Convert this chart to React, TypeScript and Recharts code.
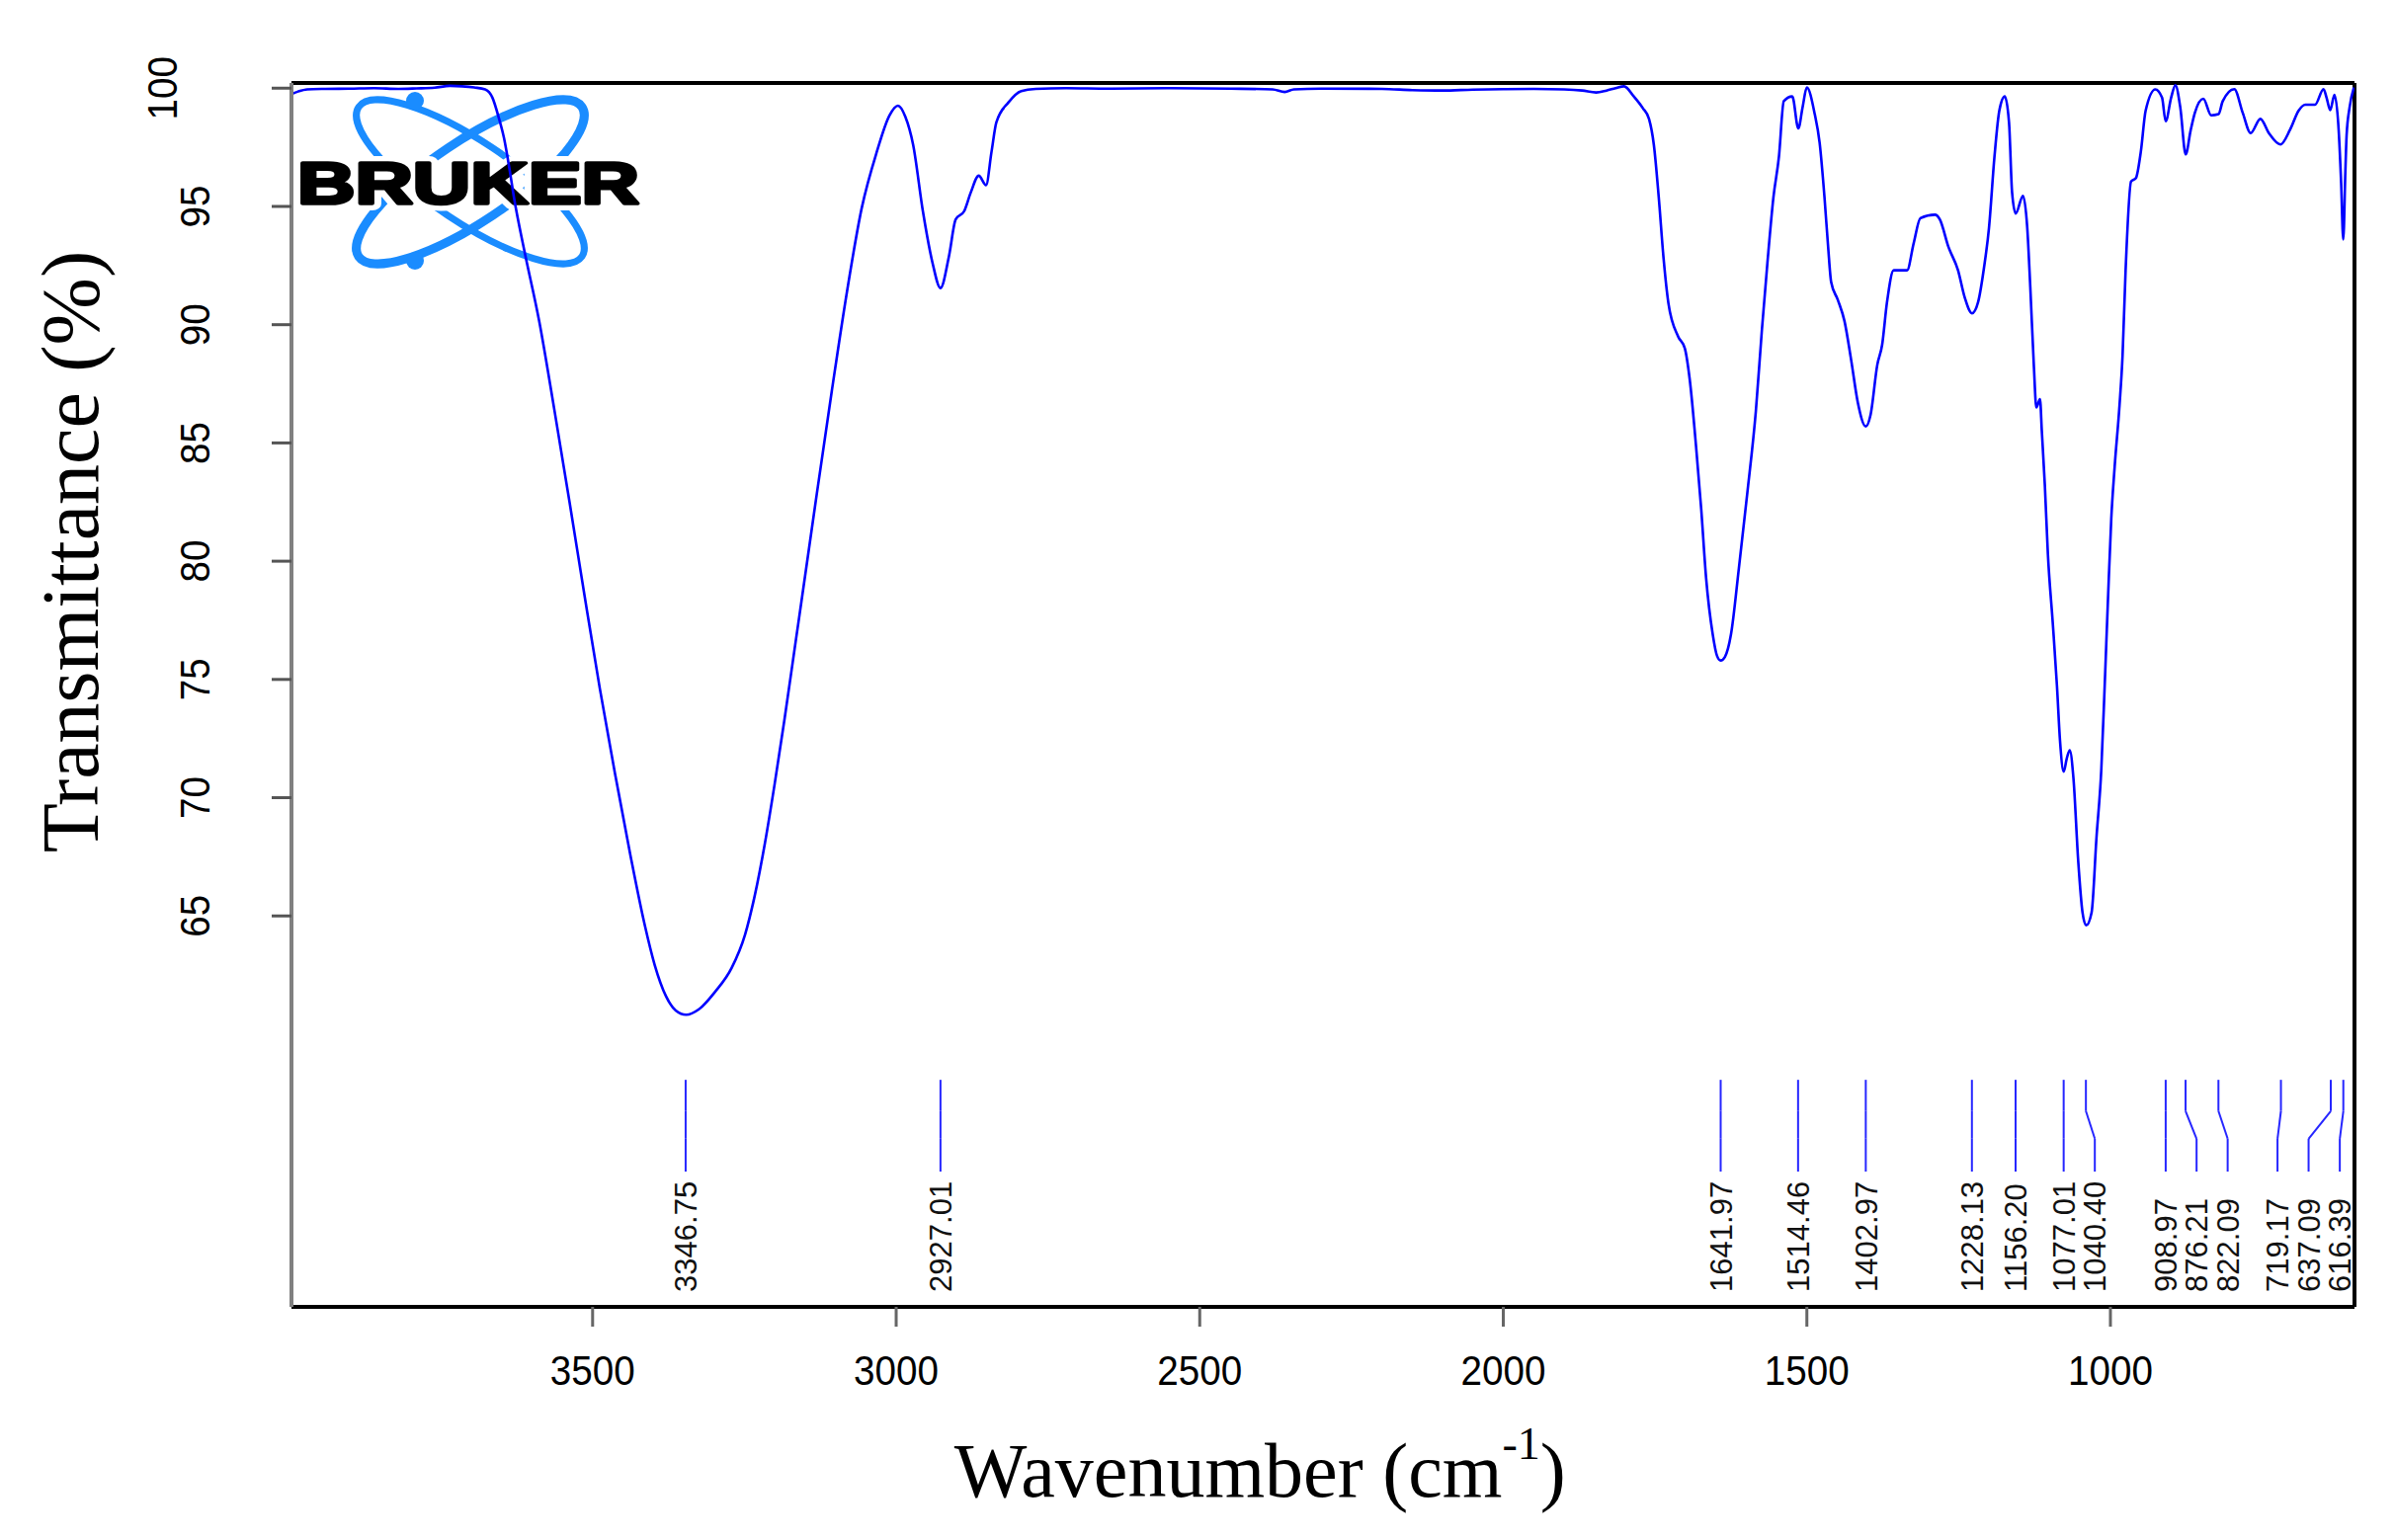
import React from 'react'
import { LineChart, Line, XAxis, YAxis, ReferenceLine, ReferenceDot, Label } from 'recharts'

// IR spectrum (wavenumber in cm-1, transmittance in %)
const wavenumber = [
  3996, 3985, 3970, 3940, 3900, 3860, 3820, 3790, 3760, 3735, 3715, 3695, 3677, 3665, 3654, 3646, 3637, 3629,
  3613, 3588, 3563, 3538, 3513, 3488, 3463, 3438, 3414, 3398, 3379, 3363, 3346, 3325, 3298, 3271,
  3249, 3233, 3216, 3200, 3184, 3165, 3156, 3131, 3106, 3081, 3057, 3032, 3011, 2997, 2985, 2972, 2956, 2940,
  2927, 2913, 2902, 2888, 2877, 2864, 2852, 2843, 2835, 2815, 2794, 2770, 2720, 2650, 2550, 2450, 2380, 2360,
  2345, 2300, 2200, 2150, 2100, 2050, 2000, 1950, 1900, 1870, 1847, 1830, 1815, 1801, 1785, 1770, 1760, 1752,
  1744, 1736, 1728, 1712, 1701, 1693, 1682, 1674, 1666, 1655, 1648, 1642, 1635, 1625, 1612, 1598, 1584, 1574,
  1565, 1555, 1546, 1538, 1524, 1514, 1507, 1500, 1487, 1479, 1471, 1465, 1460, 1449, 1438, 1427, 1416, 1403,
  1395, 1384, 1376, 1368, 1357, 1335, 1324, 1313, 1289, 1281, 1267, 1251, 1240, 1228, 1218, 1208, 1200, 1191,
  1183, 1174, 1167, 1162, 1156, 1144, 1137, 1132, 1126, 1122, 1116, 1113, 1108, 1103, 1095, 1088, 1083, 1077,
  1072, 1067, 1061, 1053, 1046, 1040, 1031, 1023, 1015, 1009.5, 1004, 998.6, 993, 985, 980, 975, 966, 958,
  950, 942, 926, 915, 909, 900, 893, 885, 876, 868, 861, 847, 834, 822, 815, 796, 782, 769,
  753, 739, 720, 704, 690, 679, 663, 649, 644, 638, 631, 624, 620, 616.5, 613, 611, 606, 599,
]
const transmittance = [
  99.75, 99.86, 99.95, 99.97, 99.98, 100.0, 99.97, 99.99, 100.02, 100.1, 100.08, 100.03, 99.95, 99.6, 98.7, 97.9, 96.6, 95.3,
  93.2, 90.15, 86.4, 82.5, 78.5, 74.6, 71.0, 67.6, 64.6, 62.95, 61.6, 61.0, 60.82, 61.05, 61.8, 62.8,
  64.2, 65.85, 68.1, 70.6, 73.3, 76.7, 78.3, 82.8, 87.2, 91.4, 94.9, 97.3, 98.85, 99.26, 98.8, 97.6, 94.8, 92.6,
  91.55, 92.9, 94.45, 94.8, 95.6, 96.3, 95.9, 97.3, 98.55, 99.4, 99.88, 99.97, 100.0, 99.98, 100.0, 99.98, 99.95, 99.84,
  99.95, 99.98, 99.97, 99.92, 99.9, 99.94, 99.96, 99.97, 99.95, 99.9, 99.82, 99.9, 100.0, 100.08, 99.65, 99.15, 98.7, 97.6,
  95.4, 92.8, 90.9, 89.5, 89.0, 87.7, 84.7, 82.2, 79.3, 76.9, 76.0, 75.8, 75.95, 76.9, 79.7, 82.9, 86.35, 89.8,
  92.6, 95.4, 97.1, 99.45, 99.65, 98.3, 99.2, 100.03, 98.9, 97.7, 95.4, 93.3, 91.8, 91.05, 90.15, 88.5, 86.7, 85.7,
  86.2, 88.3, 89.15, 90.95, 92.3, 92.3, 93.45, 94.5, 94.65, 94.45, 93.3, 92.3, 91.15, 90.48, 90.95, 92.45, 94.1, 97.1,
  99.05, 99.65, 98.55, 95.6, 94.7, 95.45, 94.1, 91.6, 88.2, 86.5, 86.85, 85.5, 83.2, 80.3, 77.4, 74.7, 72.4, 71.1,
  71.65, 72.0, 70.85, 67.3, 65.15, 64.6, 65.15, 68.3, 71.2, 74.7, 78.4, 81.8, 84.0, 86.6, 88.7, 92.3, 96.05, 96.2,
  97.3, 99.05, 99.95, 99.6, 98.6, 99.6, 100.12, 99.2, 97.2, 98.2, 98.95, 99.55, 98.85, 98.9, 99.45, 99.96, 98.95, 98.1,
  98.7, 98.1, 97.62, 98.25, 99.05, 99.3, 99.3, 99.96, 99.6, 99.07, 99.72, 98.2, 96.0, 93.6, 96.5, 98.0, 99.2, 100.03,
]

// picked peaks and where their labels sit (labels are nudged apart when peaks crowd)
const peaks = [3346.75, 2927.01, 1641.97, 1514.46, 1402.97, 1228.13, 1156.2, 1077.01, 1040.4, 908.97, 876.21, 822.09, 719.17, 637.09, 616.39]
const labelAt = [3346.75, 2927.01, 1641.97, 1514.46, 1402.97, 1228.13, 1156.2, 1077.01, 1025.7, 908.97, 858.1, 806.9, 724.8, 673.6, 622.2]

const xTicks = [3500, 3000, 2500, 2000, 1500, 1000]
const yTicks = [65, 70, 75, 80, 85, 90, 95, 100]

const X_DOMAIN = [598, 3996]
const Y_DOMAIN = [48.47, 100.22]

// heights (in % units) of the peak-marker strip
const MARK_TOP = 58.07
const BEND_TOP = 56.75
const BEND_BOTTOM = 55.58
const MARK_BOTTOM = 54.19
const LABEL_BASE = 49.1

const spectrum = wavenumber.map((w, i) => ({ w, t: transmittance[i] }))

const tickFont = "'Liberation Sans Narrow', 'Arial Narrow', 'Liberation Sans', Arial, sans-serif"
const sans = "'Liberation Sans', Arial, sans-serif"
const serif = "'Liberation Serif', 'Times New Roman', serif"
const markColor = '#2626ff'

function XTick({ x, y, payload }: any) {
  return (
    <text transform={`translate(${x} ${y}) scale(0.92 1)`} dy="0.71em" textAnchor="middle" fontFamily={tickFont} fontSize={42} fill="#000">
      {payload.value}
    </text>
  )
}

function YTick({ x, y, payload }: any) {
  const bx = payload.value === 100 ? x - 33 : x
  return (
    <text transform={`translate(${bx} ${y}) rotate(-90) scale(0.92 1)`} textAnchor="middle" fontFamily={tickFont} fontSize={42} fill="#000">
      {payload.value}
    </text>
  )
}

function XTitle({ viewBox }: any) {
  const cx = viewBox.x + viewBox.width * 0.4695
  const by = viewBox.y + 192
  return (
    <text x={cx} y={by} textAnchor="middle" fontFamily={serif} fontSize={78} fill="#000">
      Wavenumber (cm
      <tspan fontSize={46} dy={-38}>-1</tspan>
      <tspan dy={38}>)</tspan>
    </text>
  )
}

function YTitle({ viewBox }: any) {
  const bx = viewBox.x - 96
  const cy = viewBox.y + viewBox.height * 0.383
  return (
    <text x={bx} y={cy} transform={`rotate(-90 ${bx} ${cy})`} textAnchor="middle" fontFamily={serif} fontSize={82} fill="#000">
      Transmittance (%)
    </text>
  )
}

function Logo() {
  const blue = '#1a8cff'
  const word = {
    x: 301,
    y: 206,
    textLength: 346,
    lengthAdjust: 'spacingAndGlyphs',
    fontFamily: sans,
    fontWeight: 900,
    fontSize: 60,
  } as const
  return (
    <svg width={2424} height={1559} style={{ position: 'absolute', left: 0, top: 0 }}>
      <g fill="none" stroke={blue}>
        <ellipse cx={476} cy={184} rx={136} ry={41} strokeWidth={7} transform="rotate(33.8 476 184)" />
        <ellipse cx={476} cy={184} rx={136} ry={41} strokeWidth={9} transform="rotate(-33.8 476 184)" />
      </g>
      <circle cx={420} cy={102} r={9} fill={blue} />
      <circle cx={420} cy={264} r={9} fill={blue} />
      <text {...word} fill="#fff" stroke="#fff" strokeWidth={14} strokeLinejoin="round">
        BRUKER
      </text>
      <text {...word} fill="#000" stroke="#000" strokeWidth={3.5} strokeLinejoin="round">
        BRUKER
      </text>
    </svg>
  )
}

export default function App() {
  return (
    <div style={{ position: 'absolute', left: 0, top: 0, width: 2424, height: 1559, background: '#fff' }}>
      <Logo />
      <div style={{ position: 'absolute', left: 0, top: 0 }}>
        <LineChart width={2424} height={1559} data={spectrum} margin={{ top: 84, right: 41, left: 195, bottom: 156 }}>
          <XAxis
            dataKey="w"
            type="number"
            domain={X_DOMAIN}
            reversed
            allowDataOverflow
            ticks={xTicks}
            height={80}
            tickSize={20}
            tickMargin={29}
            axisLine={{ stroke: '#000', strokeWidth: 4 }}
            tickLine={{ stroke: '#666', strokeWidth: 3 }}
            tick={<XTick />}
          >
            <Label content={<XTitle />} />
          </XAxis>
          <YAxis
            type="number"
            domain={Y_DOMAIN}
            allowDataOverflow
            ticks={yTicks}
            width={100}
            tickSize={20}
            tickMargin={63}
            axisLine={{ stroke: '#808080', strokeWidth: 4 }}
            tickLine={{ stroke: '#555', strokeWidth: 3 }}
            tick={<YTick />}
          >
            <Label content={<YTitle />} />
          </YAxis>
          <ReferenceLine y={Y_DOMAIN[1]} stroke="#000" strokeWidth={4} ifOverflow="visible" />
          <ReferenceLine x={X_DOMAIN[0]} stroke="#000" strokeWidth={4} ifOverflow="visible" />
          {peaks.map((p, i) => (
            <React.Fragment key={p}>
              <ReferenceLine segment={[{ x: p, y: MARK_TOP }, { x: p, y: BEND_TOP }]} stroke={markColor} strokeWidth={2} />
              <ReferenceLine segment={[{ x: p, y: BEND_TOP }, { x: labelAt[i], y: BEND_BOTTOM }]} stroke={markColor} strokeWidth={2} />
              <ReferenceLine
                segment={[{ x: labelAt[i], y: BEND_BOTTOM }, { x: labelAt[i], y: MARK_BOTTOM }]}
                stroke={markColor}
                strokeWidth={2}
              />
              <ReferenceDot
                x={labelAt[i]}
                y={LABEL_BASE}
                r={0}
                shape={(props: any) => (
                  <text
                    x={props.cx}
                    y={props.cy}
                    dy="0.36em"
                    transform={`rotate(-90 ${props.cx} ${props.cy})`}
                    fontFamily={sans}
                    fontSize={31}
                    fill="#111"
                  >
                    {p.toFixed(2)}
                  </text>
                )}
              />
            </React.Fragment>
          ))}
          <Line
            type="monotone"
            dataKey="t"
            stroke="#0000ff"
            strokeWidth={2.6}
            dot={false}
            activeDot={false}
            isAnimationActive={false}
          />
        </LineChart>
      </div>
    </div>
  )
}
